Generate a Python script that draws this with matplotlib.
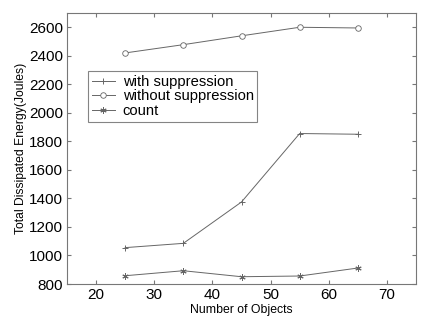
import numpy as np
import matplotlib
matplotlib.use('Agg')
import matplotlib.pyplot as plt

plt.rcParams['font.family'] = ['Liberation Sans', 'DejaVu Sans']

# data
objects = [25, 35, 45, 55, 65]
with_supp = [1055, 1085, 1375, 1855, 1850]
without_supp = [2420, 2478, 2540, 2600, 2595]
count = [858, 893, 851, 856, 912]

fig = plt.figure(figsize=(4.21, 3.20), dpi=100)
ax = fig.add_axes([67/421, 1-284/320, 349/421, 271/320])

lc = '#666666'
ax.plot(objects, with_supp, color=lc, lw=0.7, marker='+', ms=5, mew=0.7, label='with suppression')
ax.plot(objects, without_supp, color=lc, lw=0.7, marker='o', ms=4, mfc='white', mew=0.6, label='without suppression')
ax.plot(objects, count, color=lc, lw=0.7, marker=(6, 2, 0), ms=4.5, mew=0.7, label='count')

ax.set_xlim(15, 75)
ax.set_ylim(800, 2700)
ax.set_xticks([20, 30, 40, 50, 60, 70])
ax.set_yticks(np.arange(800, 2601, 200))
ax.tick_params(direction='in', top=True, right=True, labelsize=11, length=3, color='#777777', pad=3)
for s in ax.spines.values():
    s.set_color('#777777')
    s.set_linewidth(0.8)

ax.set_xlabel('Number of Objects', fontsize=8.8, labelpad=1)
ax.set_ylabel('Total Dissipated Energy(Joules)', fontsize=8.7, labelpad=1)

leg = ax.legend(loc='upper left', bbox_to_anchor=(0.06, 0.786), fontsize=10.6, frameon=True,
                fancybox=False, edgecolor='#666666', borderpad=0.25, labelspacing=0.05,
                handlelength=1.6, handletextpad=0.5, borderaxespad=0)
leg.get_frame().set_linewidth(0.8)

fig.savefig('out.png', dpi=100)
